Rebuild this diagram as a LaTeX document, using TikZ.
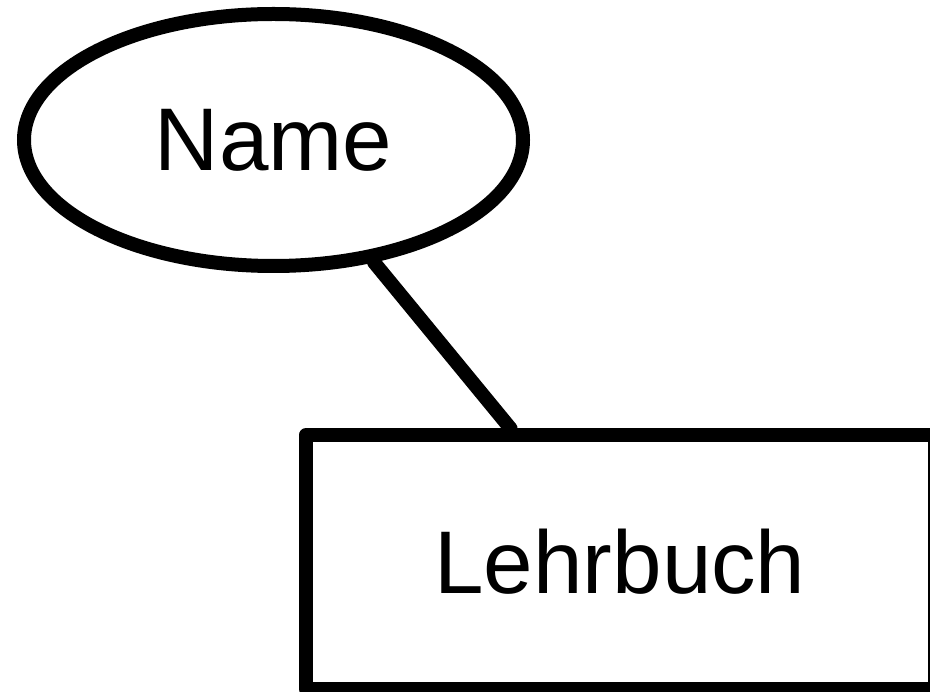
\documentclass[tikz,border=0pt]{standalone}
\usepackage{fontspec}
\setmainfont{Liberation Sans}
\usetikzlibrary{shapes.geometric}

\tikzset{
  attribut/.style={draw, ellipse, line width=14pt, inner sep=0pt,
    minimum width=499pt, minimum height=252pt},
  entitaet/.style={draw, rectangle, line width=14pt, inner sep=0pt,
    minimum width=629pt, minimum height=253pt, line join=round},
  kante/.style={line width=14pt, line cap=round}
}

\begin{document}
\begin{tikzpicture}[x=1pt,y=-1pt,font=\fontsize{89}{100}\selectfont]
    \useasboundingbox (0,0) rectangle (930,692);

    \node[attribut] (name) at (273.5,140) {Name};
    \node[entitaet] (lehrbuch) at (620,562) {Lehrbuch};

    \draw[kante] (name) -- (lehrbuch);
    % \draw (lehrbuch.north) -- (name.south);

  \end{tikzpicture}
\end{document}
